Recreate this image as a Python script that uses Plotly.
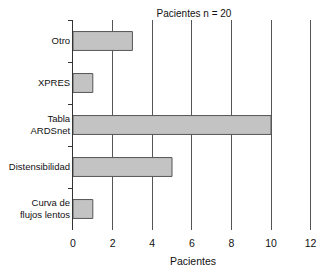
import plotly.graph_objects as go

categories = ["Otro", "XPRES", "Tabla<br>ARDSnet", "Distensibilidad", "Curva de<br>flujos lentos"]
values = [3, 1, 10, 5, 1]
x_ticks = [0, 2, 4, 6, 8, 10, 12]

fig = go.Figure(go.Bar(
    x=values, y=categories, orientation="h",
    width=0.45,
    marker=dict(color="#c3c3c3", line=dict(color="#555555", width=1)),
))

# page body adds an 8px offset; figure sized to fit the visible window
font = dict(family="Liberation Sans, Arial, sans-serif", size=10.5, color="#111111")
fig.update_layout(
    width=309, height=264,
    margin=dict(l=65, r=4, t=12, b=42, autoexpand=False),
    paper_bgcolor="white", plot_bgcolor="white",
    font=font,
    showlegend=False,
    title=dict(text="Pacientes n = 20", x=186 / 309, xanchor="center",
               y=1 - 2 / 264, yanchor="top", pad=dict(t=0), font=dict(size=10)),
    bargap=0.55,
)
fig.update_xaxes(
    range=[0, 12.12], tickvals=x_ticks, ticktext=[str(t) for t in x_ticks],
    showgrid=True, gridcolor="#555555", gridwidth=1,
    zeroline=False, showline=False, automargin=False,
    ticks="outside", ticklen=3, tickcolor="rgba(0,0,0,0)",
    ticklabeloverflow="allow",
    title=dict(text="Pacientes", standoff=10, font=dict(size=10.5)),
)
fig.update_yaxes(
    categoryorder="array", categoryarray=categories, autorange="reversed",
    showline=True, linecolor="#333333", linewidth=1, automargin=False,
    ticks="outside", tickson="boundaries", ticklen=4, tickcolor="#333333",
    tickfont=dict(size=9.5),
    showgrid=False, zeroline=False,
)

fig.write_html("out.html")
